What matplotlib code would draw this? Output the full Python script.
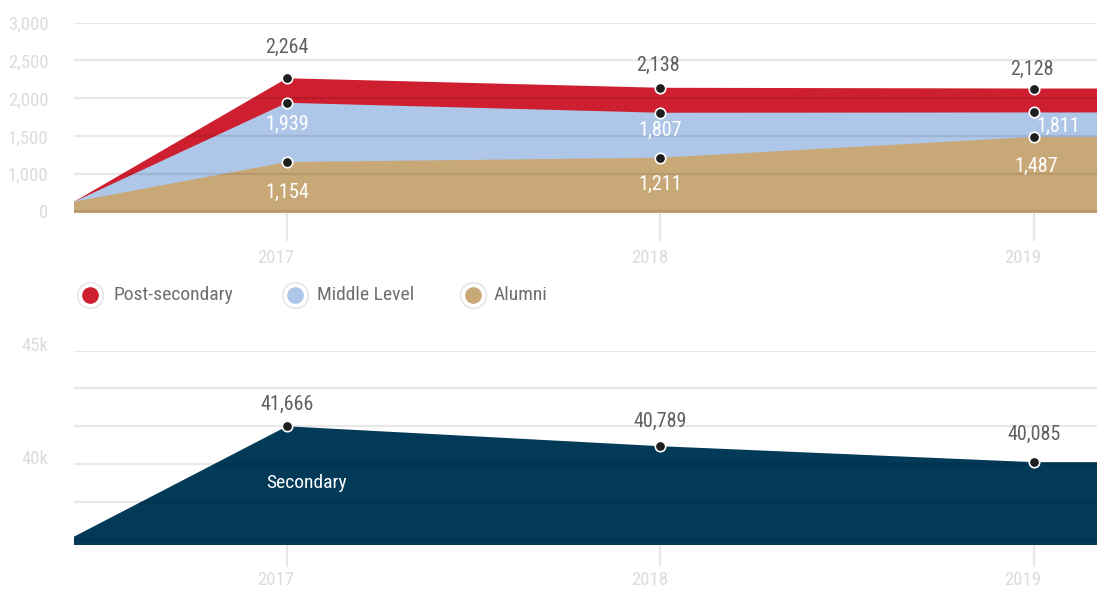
import numpy as np
import matplotlib
matplotlib.use("Agg")
import matplotlib.pyplot as plt
from matplotlib.lines import Line2D
from matplotlib.ticker import MultipleLocator, FuncFormatter, FixedLocator
from matplotlib.transforms import ScaledTranslation
from matplotlib import font_manager as fm

avail = {f.name for f in fm.fontManager.ttflist}
cands = ['Roboto Condensed', 'Liberation Sans Narrow', 'Open Sans Condensed', 'Noto Sans Condensed',
         'DejaVu Sans Condensed', 'Roboto', 'DejaVu Sans']
fams = [c for c in cands if c in avail] or ['DejaVu Sans']
plt.rcParams['font.family'] = fams + ['DejaVu Sans']
COND = fams[0] in ('Roboto Condensed', 'Liberation Sans Narrow', 'Open Sans Condensed',
                   'Noto Sans Condensed', 'DejaVu Sans Condensed')
cond_files = [f for f in fm.fontManager.ttflist if f.stretch in ('condensed', 'semi-condensed')
              and f.name in ('Roboto', 'Noto Sans', 'Open Sans', 'Inter')]
if not COND and cond_files:
    plt.rcParams['font.family'] = [cond_files[0].name, 'DejaVu Sans']
    plt.rcParams['font.stretch'] = cond_files[0].stretch
    COND = True

# ---------------- data ----------------
x_years = [2016.43, 2017, 2018, 2019, 2020]
year_ticks = [2017, 2018, 2019]
post_secondary = [257, 2264, 2138, 2128, 2128]
middle_level = [257, 1939, 1807, 1811, 1811]
alumni = [257, 1154, 1211, 1487, 1487]
secondary = [36800, 41666, 40789, 40085, 40085]
series_names = ["Post-secondary", "Middle Level", "Alumni"]
top_yticks = [0, 1000, 1500, 2000, 2500, 3000]

# ---------------- style ----------------
RED = "#cd1f2f"
BLUE = "#aec6e7"
TAN = "#c8a876"
NAVY = "#033a58"
LABEL_DARK = "#606060"
AXIS_LIGHT = "#dcdcdc"

W, H = 1097, 596
fig = plt.figure(figsize=(W / 100, H / 100), dpi=100)

def px_axes(left, top, right, bottom):
    return fig.add_axes([left / W, 1 - bottom / H, (right - left) / W, (bottom - top) / H])

def fwd(v):
    v = np.asarray(v, float)
    return np.where(v >= 1000, 1 + (v - 1000) / 500.0, v / 1000.0)

def inv(p):
    p = np.asarray(p, float)
    return np.where(p >= 1, 1000 + (p - 1) * 500.0, p * 1000.0)

xlim = (2016.43, 2019.169)
FS_TICK = 13.5 if COND else 11
FS_LAB = 14.5 if COND else 12
FS_LEG = 14 if COND else 12

def style_axes(ax, tick_len, tick_pad):
    for s in ax.spines.values():
        s.set_visible(False)
    ax.set_xlim(*xlim)
    ax.set_axisbelow(False)
    ax.grid(axis='y', color='k', alpha=0.09, lw=1.6)
    ax.grid(axis='x', visible=False)
    ax.set_xticks(year_ticks)
    ax.set_xticklabels([str(y) for y in year_ticks], ha='center')
    ax.tick_params(axis='x', length=tick_len, width=1.6, color='#e8e8e8', pad=tick_pad,
                   labelsize=FS_TICK, labelcolor=AXIS_LIGHT)
    ax.tick_params(axis='y', length=0, pad=18.5, labelsize=FS_TICK, labelcolor=AXIS_LIGHT)
    shift = ScaledTranslation(-11 / 100, 0, fig.dpi_scale_trans)
    for lab in ax.get_xticklabels():
        lab.set_transform(lab.get_transform() + shift)

# ---------------- top chart ----------------
ax1 = px_axes(74, 22.7, 1097, 213.3)
ax1.set_yscale('function', functions=(fwd, inv))
ax1.set_ylim(-50, 3000)
base1 = -50
for vals, col in [(post_secondary, RED), (middle_level, BLUE), (alumni, TAN)]:
    ax1.fill_between(x_years, base1, vals, color=col, lw=0, zorder=1)
    ax1.plot(x_years[1:4], vals[1:4], ls='none', marker='o', ms=7.5,
             mfc='#1e1e1e', mec='white', mew=1.2, zorder=4, clip_on=False)
ax1.yaxis.set_major_locator(FixedLocator(top_yticks))
ax1.yaxis.set_minor_locator(FixedLocator([]))
ax1.yaxis.set_major_formatter(FuncFormatter(lambda v, p: f"{v:,.0f}"))
style_axes(ax1, 20, 6)

# label offsets (pixels): (dx, dy) with dy positive = down
off_post = [(0, -31), (-2, -22), (-2, -19)]
off_mid = [(0, 22), (0, 18), (24, 14)]
off_alu = [(0, 30), (0, 27), (2, 29)]
for vals, offs, col in [(post_secondary, off_post, LABEL_DARK),
                        (middle_level, off_mid, 'white'),
                        (alumni, off_alu, 'white')]:
    for i, (dx, dy) in zip(range(1, 4), offs):
        ax1.annotate(f"{vals[i]:,}", (x_years[i], vals[i]), xytext=(dx * 0.72, -dy * 0.72),
                     textcoords='offset points', ha='center', va='center',
                     fontsize=FS_LAB, color=col, zorder=5)

# ---------------- legend ----------------
legend_items = [(89.5, 113.5, RED), (295, 317, BLUE), (473, 494, TAN)]
for (mx, tx, col), name in zip(legend_items, series_names):
    fig.add_artist(Line2D([mx / W], [1 - 295 / H], transform=fig.transFigure, marker='o',
                          ms=18.5, mfc='white', mec='#e6e6e6', mew=1.2, ls='none'))
    fig.add_artist(Line2D([mx / W], [1 - 295 / H], transform=fig.transFigure, marker='o',
                          ms=12, mfc=col, mec=col, mew=0, ls='none'))
    fig.text(tx / W, 1 - 295 / H, name, ha='left', va='center', fontsize=FS_LEG,
             color='#6e6e6e')

# ---------------- bottom chart ----------------
ax2 = px_axes(74, 350.7, 1097, 545)
ax2.set_ylim(36432, 45000)
ax2.fill_between(x_years, 36432, secondary, color=NAVY, lw=0, zorder=1)
ax2.plot(x_years[1:4], secondary[1:4], ls='none', marker='o', ms=7.5,
         mfc='#1e1e1e', mec='white', mew=1.2, zorder=4)
ax2.yaxis.set_major_locator(MultipleLocator(5000 / 3))
ax2.yaxis.set_major_formatter(FuncFormatter(
    lambda v, p: f"{v / 1000:.0f}k" if abs(v / 5000 - round(v / 5000)) < 1e-6 else ""))
style_axes(ax2, 16, 3)
for lab in ax2.get_yticklabels():
    lab.set_va('baseline')
off_sec = [(0, -22), (0, -25), (0, -28)]
for i, (dx, dy) in zip(range(1, 4), off_sec):
    ax2.annotate(f"{secondary[i]:,}", (x_years[i], secondary[i]), xytext=(dx * 0.72, -dy * 0.72),
                 textcoords='offset points', ha='center', va='center',
                 fontsize=FS_LAB, color=LABEL_DARK, zorder=5)
ax2.text(2017.054, 39160, "Secondary", ha='center', va='center', fontsize=FS_LEG,
         color='white', zorder=5)

fig.savefig("out.png", dpi=100)
